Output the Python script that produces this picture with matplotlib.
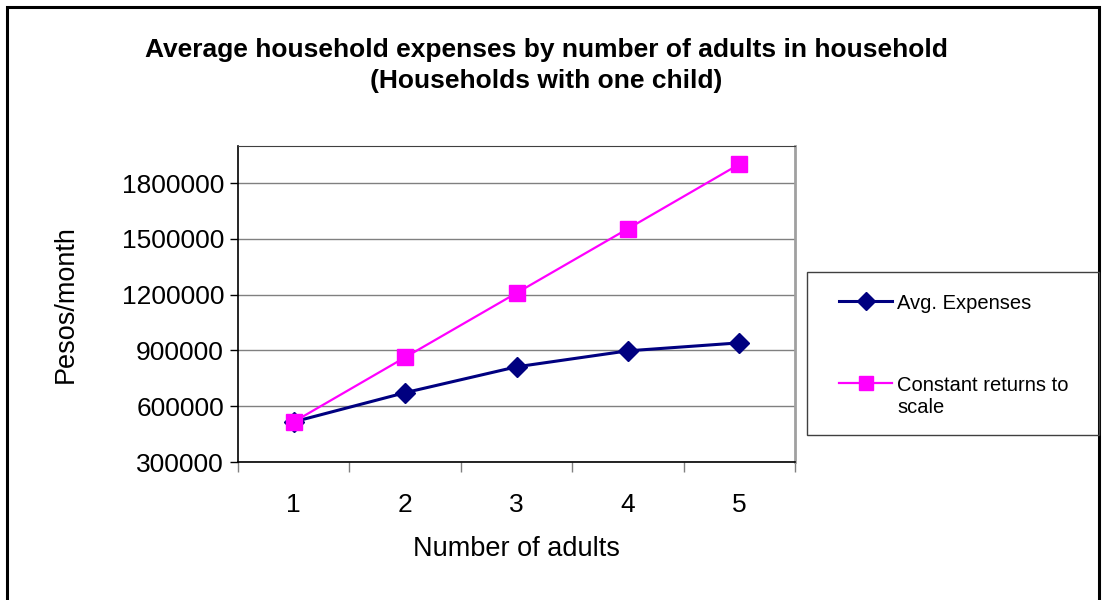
import matplotlib.pyplot as plt
from matplotlib.patches import Rectangle

plt.rcParams['font.family'] = ['Liberation Sans', 'DejaVu Sans']

adults = [1, 2, 3, 4, 5]
avg_expenses = [516000, 673000, 812000, 898000, 941000]
constant_returns = [516000, 863000, 1209000, 1555000, 1902000]
y_ticks = [300000, 600000, 900000, 1200000, 1500000, 1800000]

W, H = 1106, 600
fig = plt.figure(figsize=(W / 100, H / 100), dpi=100)

# outer chart frame (runs off the bottom edge)
fig.patches.append(Rectangle((7 / W, -0.05), (1099 - 7) / W, 1 - 7 / H + 0.05,
                             transform=fig.transFigure, fill=False,
                             edgecolor='black', linewidth=2.2, zorder=0))

ax = fig.add_axes([238 / W, 1 - 462 / H, (795 - 238) / W, (462 - 146) / H])

ax.plot(adults, avg_expenses, color='#000080', linewidth=2.2, marker='D',
        markersize=10.5, label='Avg. Expenses', zorder=3)
ax.plot(adults, constant_returns, color='#FF00FF', linewidth=1.6, marker='s',
        markersize=11.5, label='Constant returns to\nscale', zorder=4)

ax.set_xlim(0.5, 5.5)
ax.set_ylim(300000, 2000000)
ax.set_yticks(y_ticks)
ax.set_yticklabels([str(v) for v in y_ticks])
ax.yaxis.grid(True, color='#808080', linewidth=1)
ax.set_axisbelow(True)

# category ticks sit between the points, labels at the points
ax.set_xticks([1, 2, 3, 4, 5])
ax.set_xticks([0.5, 1.5, 2.5, 3.5, 4.5, 5.5], minor=True)
ax.tick_params(axis='x', which='major', length=0, pad=22, labelsize=19)
ax.tick_params(axis='x', which='minor', length=7, width=1, color='#808080')
ax.tick_params(axis='y', length=6, width=1, labelsize=19, pad=4)

for s in ['left', 'bottom']:
    ax.spines[s].set_color('black')
    ax.spines[s].set_linewidth(1.2)
ax.spines['top'].set_color('#404040')
ax.spines['right'].set_color('#a0a0a0')
ax.spines['right'].set_linewidth(2)

ax.set_xlabel('Number of adults', fontsize=19.5, labelpad=14)
ax.set_ylabel('Pesos/month', fontsize=19.5, labelpad=31)

fig.text(546 / W, 1 - 57 / H, 'Average household expenses by number of adults in household',
         ha='center', va='baseline', fontsize=19, fontweight='bold')
fig.text(546 / W, 1 - 88 / H, '(Households with one child)',
         ha='center', va='baseline', fontsize=19, fontweight='bold')

# legend box
fig.patches.append(Rectangle((807 / W, 1 - 435 / H), (1099 - 807) / W, (435 - 272) / H,
                             transform=fig.transFigure, fill=False,
                             edgecolor='#404040', linewidth=1))
leg = fig.legend(loc='upper left', bbox_to_anchor=(839 / W, 1 - 294 / H), frameon=False,
                 fontsize=14.5, handlelength=2.65, handletextpad=0.25, labelspacing=3.15,
                 borderpad=0, borderaxespad=0, markerscale=0.85)
# keep each handle level with the first line of its label
for row in leg._legend_handle_box.get_children()[0].get_children():
    row.align = 'top'

fig.savefig('out.png', dpi=100)
